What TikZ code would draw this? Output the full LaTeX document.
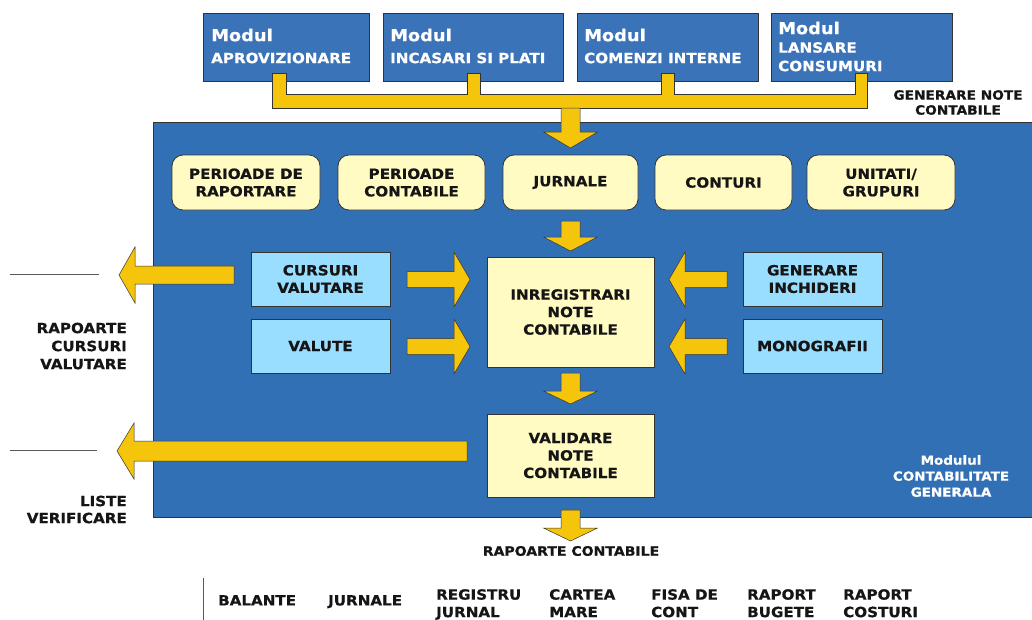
\documentclass[tikz,border=0pt]{standalone}
\usepackage{fontspec}
\newfontfamily\dvf{DejaVu Sans}[FakeStretch=1.08, FakeBold=0.7]
\definecolor{mainblue}{HTML}{3270B5}
\definecolor{modblue}{HTML}{3B73B9}
\definecolor{lblue}{HTML}{99DDFF}
\definecolor{ylite}{HTML}{FFFBC2}
\definecolor{arrowy}{HTML}{F5C50C}
\definecolor{edge}{HTML}{333333}
\definecolor{txt}{HTML}{151515}
\newcommand\myDarrow[4]{% cx, ytop, ybase, ytip
  \draw[arr] (#1-9.5,#2) -- (#1+9.5,#2) -- (#1+9.5,#3) -- (#1+27,#3) -- (#1,#4) -- (#1-27,#3) -- (#1-9.5,#3) -- cycle;}
\newcommand\myHarrow[6]{% tipx, basex, endx, cy, shafthalf, headhalf
  \draw[arr] (#1,#4) -- (#2,#4-#6) -- (#2,#4-#5) -- (#3,#4-#5) -- (#3,#4+#5) -- (#2,#4+#5) -- (#2,#4+#6) -- cycle;}
\begin{document}
\begin{tikzpicture}[x=1pt,y=-1pt,
  lbl/.style={font=\dvf\bfseries\fontsize{14}{17.5}\selectfont, text=txt, align=center, inner sep=0pt},
  wlbl/.style={lbl, text=white},
  modbox/.style={draw=edge, fill=modblue, inner sep=0pt, line width=0.6pt, minimum height=68pt},
  rbox/.style={draw=edge, fill=ylite, rounded corners=11pt, inner sep=0pt, line width=0.8pt, minimum height=55pt, lbl},
  bbox/.style={draw=edge, fill=lblue, inner sep=0pt, line width=0.6pt, minimum width=139pt, minimum height=54pt, lbl},
  ybox/.style={draw=edge, fill=ylite, inner sep=0pt, line width=0.6pt, minimum width=167pt, lbl},
  arr/.style={draw=edge, fill=arrowy, line width=0.5pt, line join=miter},
  gline/.style={draw=black!65, line width=0.8pt}]
\useasboundingbox (0,0) rectangle (1032,619);
\fill[white] (0,0) rectangle (1032,619);

% main module area
\node[draw=edge, fill=mainblue, line width=0.6pt, inner sep=0pt, minimum width=882pt, minimum height=395pt, anchor=north west] (main) at (153,122) {};

% top modules
\node[modbox, minimum width=166pt] (m1) at (286,47) {};
\node[modbox, minimum width=180pt] (m2) at (473,47) {};
\node[modbox, minimum width=181pt] (m3) at (667.5,47) {};
\node[modbox, minimum width=181pt] (m4) at (861.5,47) {};
\node[wlbl, anchor=west, font=\dvf\bfseries\fontsize{16.5}{18}\selectfont] (m1a) at (211,35) {Modul};
\node[wlbl, anchor=west] (m1b) at (211,58) {APROVIZIONARE};
\node[wlbl, anchor=west, font=\dvf\bfseries\fontsize{16.5}{18}\selectfont] (m2a) at (390,35) {Modul};
\node[wlbl, anchor=west] (m2b) at (390,58) {INCASARI SI PLATI};
\node[wlbl, anchor=west, font=\dvf\bfseries\fontsize{16.5}{18}\selectfont] (m3a) at (584,35) {Modul};
\node[wlbl, anchor=west] (m3b) at (584,58) {COMENZI INTERNE};
\node[wlbl, anchor=west, font=\dvf\bfseries\fontsize{16.5}{18}\selectfont] (m4a) at (778,28) {Modul};
\node[wlbl, anchor=north west, align=left, font=\dvf\bfseries\fontsize{14}{18.5}\selectfont] (m4b) at (778,42) {LANSARE\\CONSUMURI};

% bus
\draw[arr] (272,73) -- (286,73) -- (286,94) -- (467,94) -- (467,73) -- (480,73) -- (480,94)
  -- (661,94) -- (661,73) -- (674,73) -- (674,94) -- (855,94) -- (855,73) -- (867,73)
  -- (867,108) -- (272,108) -- cycle;
\node[lbl, font=\dvf\bfseries\fontsize{12.7}{15}\selectfont] (gen) at (958,102.5) {GENERARE NOTE\\CONTABILE};
\myDarrow{570.5}{108}{132}{148}

% rounded boxes
\node[rbox, minimum width=148pt] (r1) at (246,182.5) {PERIOADE DE\\RAPORTARE};
\node[rbox, minimum width=147pt] (r2) at (411.5,182.5) {PERIOADE\\CONTABILE};
\node[rbox, minimum width=135pt] (r3) at (570.5,182.5) {JURNALE};
\node[rbox, minimum width=137pt] (r4) at (723.5,182.5) {CONTURI};
\node[rbox, minimum width=148pt] (r5) at (881,182.5) {UNITATI/\\GRUPURI};
\myDarrow{570.5}{221}{237}{251}

% central boxes
\node[ybox, minimum height=110pt] (inreg) at (570.5,312) {INREGISTRARI\\NOTE\\CONTABILE};
\node[ybox, minimum height=83pt] (valid) at (570.5,455.5) {VALIDARE\\NOTE\\CONTABILE};
\myDarrow{570.5}{373}{391}{404}
\myDarrow{570.5}{510}{528}{541}

% side boxes
\node[bbox] (curs) at (320.5,279) {CURSURI\\VALUTARE};
\node[bbox] (valu) at (320.5,346) {VALUTE};
\node[bbox] (genc) at (812.5,279) {GENERARE\\INCHIDERI};
\node[bbox] (mono) at (812.5,346) {MONOGRAFII};

% horizontal arrows
\myHarrow{470}{454}{407}{279.5}{8}{27.5}
\myHarrow{470}{454}{407}{346.5}{8}{27.5}
\myHarrow{669}{685}{727}{279.5}{8}{27.5}
\myHarrow{669}{685}{727}{346.5}{8}{27.5}
\myHarrow{119}{135}{234}{275}{9}{28}
\myHarrow{117}{134}{467}{451}{10}{28}

% outside labels
\coordinate (l1a) at (10,274); \coordinate (l1b) at (99,274);
\coordinate (l2a) at (10,450); \coordinate (l2b) at (97,450);
\draw[gline] (l1a) -- (l1b);
\draw[gline] (l2a) -- (l2b);
\node[lbl, anchor=east, align=right, font=\dvf\bfseries\fontsize{14}{18}\selectfont] (rcv) at (127,346) {RAPOARTE\\CURSURI\\VALUTARE};
\node[lbl, anchor=east, align=right, font=\dvf\bfseries\fontsize{14}{17}\selectfont] (lv) at (127,509.5) {LISTE\\VERIFICARE};
\node[wlbl, font=\dvf\bfseries\fontsize{12.5}{16}\selectfont] (mcg) at (951,476) {Modulul\\CONTABILITATE\\GENERALA};
\node[lbl, font=\dvf\bfseries\fontsize{13}{15}\selectfont] (rc) at (571,551) {RAPOARTE CONTABILE};

% bottom list
\coordinate (v1) at (203,578); \coordinate (v2) at (203,620);
\draw[gline] (v1) -- (v2);
\tikzset{bl/.style={lbl, anchor=north west, align=left, font=\dvf\bfseries\fontsize{14}{17.5}\selectfont}}
\node[bl] (b1) at (218,595) {BALANTE};
\node[bl] (b2) at (328,595) {JURNALE};
\node[bl] (b3) at (436,589) {REGISTRU\\JURNAL};
\node[bl] (b4) at (549,589) {CARTEA\\MARE};
\node[bl] (b5) at (651,589) {FISA DE\\CONT};
\node[bl] (b6) at (747,589) {RAPORT\\BUGETE};
\node[bl] (b7) at (843,589) {RAPORT\\COSTURI};
\end{tikzpicture}
\end{document}
